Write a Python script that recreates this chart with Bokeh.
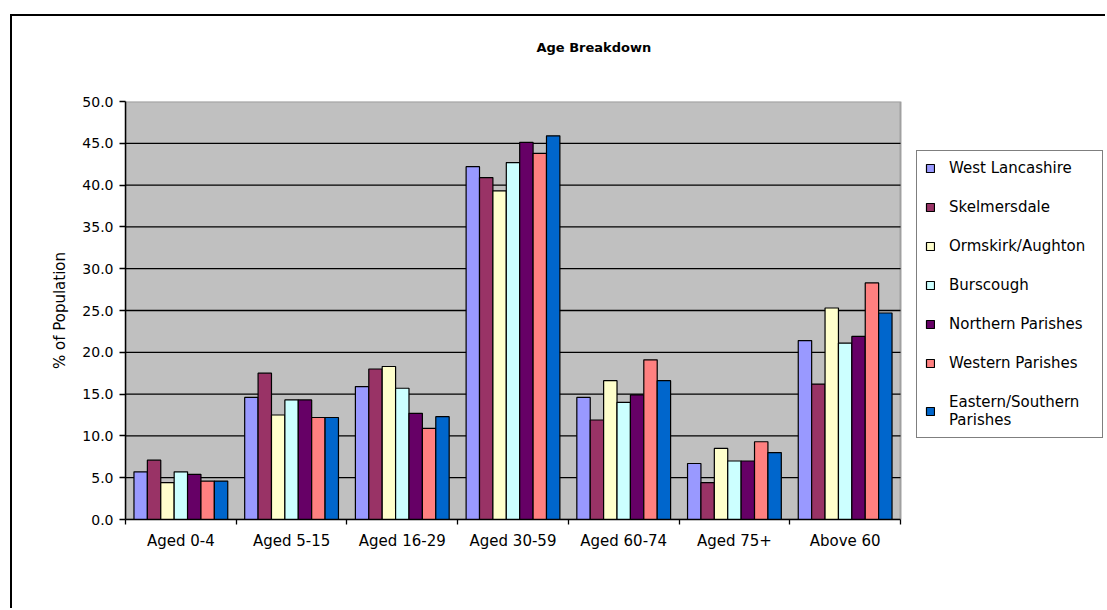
from bokeh.plotting import figure
from bokeh.models import (Range1d, FixedTicker, Legend, LegendItem,
                          ColumnDataSource)
from bokeh.transform import dodge
from bokeh.embed import file_html
from bokeh.resources import INLINE

categories = ["Aged 0-4", "Aged 5-15", "Aged 16-29", "Aged 30-59",
              "Aged 60-74", "Aged 75+", "Above 60"]
series_names = ["West Lancashire", "Skelmersdale", "Ormskirk/Aughton",
                "Burscough", "Northern Parishes", "Western Parishes",
                "Eastern/Southern\nParishes"]
west_lancashire = [5.7, 14.6, 15.9, 42.2, 14.6, 6.7, 21.4]
skelmersdale = [7.1, 17.5, 18.0, 40.9, 11.9, 4.4, 16.2]
ormskirk_aughton = [4.4, 12.5, 18.3, 39.3, 16.6, 8.5, 25.3]
burscough = [5.7, 14.3, 15.7, 42.7, 14.0, 7.0, 21.1]
northern_parishes = [5.4, 14.3, 12.7, 45.1, 14.9, 7.0, 21.9]
western_parishes = [4.6, 12.2, 10.9, 43.8, 19.1, 9.3, 28.3]
eastern_southern = [4.6, 12.2, 12.3, 45.9, 16.6, 8.0, 24.7]
series_values = [west_lancashire, skelmersdale, ormskirk_aughton, burscough,
                 northern_parishes, western_parishes, eastern_southern]
colors = ["#9999FF", "#993366", "#FFFFCC", "#CCFFFF", "#660066",
          "#FF8080", "#0066CC"]
y_ticks = [0, 5, 10, 15, 20, 25, 30, 35, 40, 45, 50]

FONT = "DejaVu Sans"
n = len(categories)
centers = [i + 0.5 for i in range(n)]

# layout: the frame spans the plot area plus the legend area on the right
PLOT_PX = 775      # width of the grey plot area
FRAME_PX = 980     # width of the whole frame (plot area + legend room)
x_end = n * FRAME_PX / PLOT_PX

p = figure(width=1095, height=594, output_backend="svg", toolbar_location=None,
           x_range=Range1d(0, x_end), y_range=Range1d(0, y_ticks[-1]),
           min_border_left=113, min_border_right=2,
           min_border_top=85, min_border_bottom=91)
p.styles = {"border-top": "2px solid black", "border-left": "2px solid black",
            "margin-left": "10px", "margin-top": "14px"}

xa = p.below[0]
ya = p.left[0]

p.background_fill_color = "white"
p.border_fill_color = "white"
p.outline_line_color = None

# trailing blank lines lift the title away from the plot area
p.title.text = "Age Breakdown\n\n\n"
p.title.text_font = FONT
p.title.text_font_size = "13px"
p.title.text_font_style = "bold"
p.title.text_color = "black"
p.title.align = "left"
p.title.offset = 411
p.title.vertical_align = "top"
p.title.standoff = 0

p.xgrid.visible = False
p.ygrid.visible = False

# grey plot area and horizontal grid lines
grid_y = y_ticks[1:-1]
p.quad(left=0, right=n, bottom=0, top=y_ticks[-1], fill_color="#C0C0C0",
       line_color="#A0A0A0", line_width=2)
p.segment(x0=[0] * len(grid_y), x1=[n] * len(grid_y), y0=grid_y, y1=grid_y,
          line_color="black", line_width=1.3)

source = ColumnDataSource(dict(x=centers, **{f"s{k}": v for k, v in enumerate(series_values)}))
bw = 0.121
items = []
for k, name in enumerate(series_names):
    r = p.vbar(x=dodge("x", (k - 3) * bw, range=p.x_range), top=f"s{k}",
               width=bw, source=source, fill_color=colors[k],
               line_color="black", line_width=1.2)
    items.append(LegendItem(label=name, renderers=[r]))

# x axis
xa.bounds = (0, n)
xa.ticker = FixedTicker(ticks=centers, minor_ticks=list(range(n + 1)))
xa.major_label_overrides = {c: cat for c, cat in zip(centers, categories)}
xa.major_tick_line_color = None
xa.major_tick_out = 0
xa.major_tick_in = 0
xa.minor_tick_line_color = "black"
xa.minor_tick_out = 5
xa.minor_tick_in = 0
xa.minor_tick_line_width = 1.3
xa.axis_line_color = "black"
xa.axis_line_width = 1.5
xa.major_label_standoff = 7
xa.major_label_text_font = FONT
xa.major_label_text_font_size = "15px"
xa.major_label_text_color = "black"

# y axis
ya.ticker = FixedTicker(ticks=y_ticks)
ya.major_label_overrides = {t: f"{t:.1f}" for t in y_ticks}
ya.minor_tick_line_color = None
ya.major_tick_out = 6
ya.major_tick_in = 0
ya.major_tick_line_color = "black"
ya.major_tick_line_width = 1.3
ya.axis_line_color = "black"
ya.axis_line_width = 1.5
ya.major_label_standoff = 6
ya.major_label_text_font = FONT
ya.major_label_text_font_size = "14px"
ya.major_label_text_color = "black"
ya.axis_label = "% of Population"
ya.axis_label_text_font = FONT
ya.axis_label_text_font_size = "15px"
ya.axis_label_text_font_style = "normal"
ya.axis_label_text_color = "black"
ya.axis_label_standoff = 10

legend = Legend(items=items, location=(PLOT_PX + 16, 81))
legend.label_text_font = FONT
legend.label_text_font_size = "15px"
legend.label_text_color = "black"
legend.glyph_width = 10
legend.glyph_height = 10
legend.label_standoff = 14
legend.label_height = 17
legend.label_width = 145
legend.spacing = 21
legend.padding = 8
legend.border_line_color = "black"
legend.border_line_width = 1.5
legend.background_fill_color = "white"
legend.background_fill_alpha = 1
legend.click_policy = "none"
p.add_layout(legend, "center")

open("out.html", "w").write(file_html(p, INLINE))
